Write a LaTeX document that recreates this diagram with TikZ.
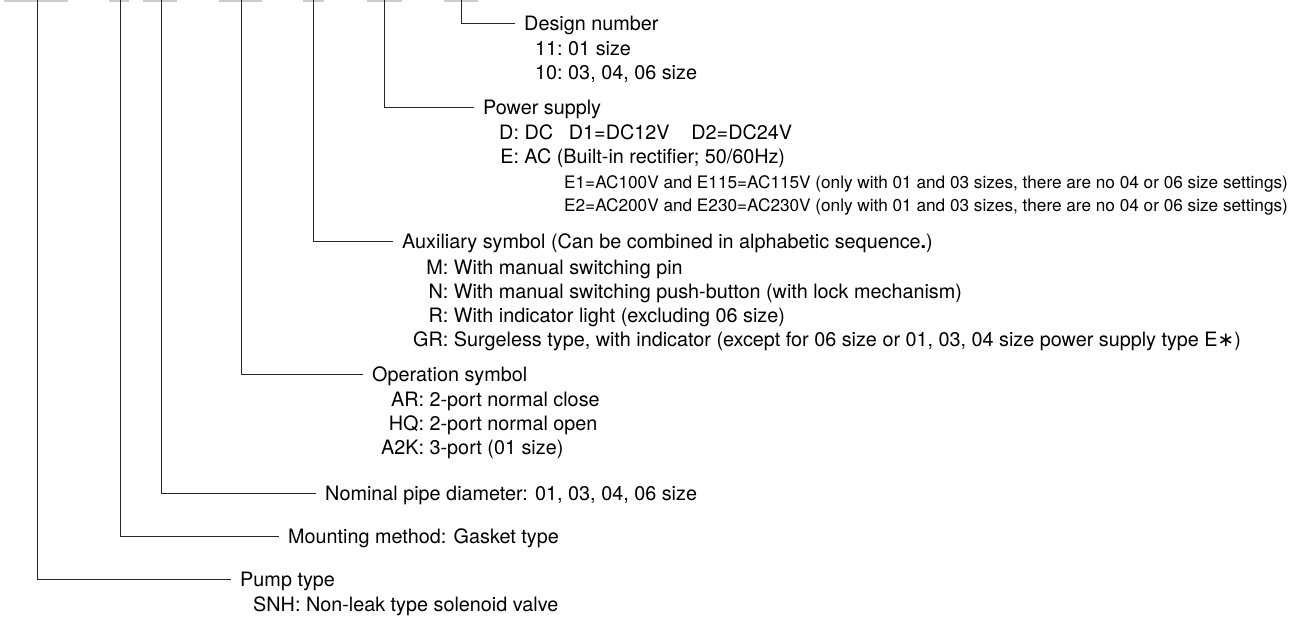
\documentclass[tikz,border=0pt]{standalone}
\usepackage{fontspec}
\setmainfont{TeX Gyre Heros}
\newfontfamily\symfont{DejaVu Sans}
\usetikzlibrary{positioning}
\tikzset{
  lead/.style={line width=1pt,draw=black!85},
  codebar/.style={line width=1.6pt,draw=black!20},
  head/.style={anchor=west,inner xsep=9pt,inner ysep=0pt,text height=14.2pt,text depth=0pt,
               font=\fontsize{19.8}{24}\selectfont},
  items/.style={anchor=north west,inner sep=0pt,font=\fontsize{19.8}{24}\selectfont},
  fine/.style={anchor=north west,inner sep=0pt,font=\fontsize{17.2}{23}\selectfont},
}
\newcommand{\keylist}[1]{\begin{tabular}{@{}r@{\ }l@{}}#1\end{tabular}}

\begin{document}
\begin{tikzpicture}[x=1pt,y=-1pt]
  \useasboundingbox (0,0) rectangle (1303,619);

  % cut-off underlines of the code
  \draw[codebar] (4,0.8)   -- (68,0.8);
  \draw[codebar] (109,0.8) -- (129,0.8);
  \draw[codebar] (143,0.8) -- (177,0.8);
  \draw[codebar] (219,0.8) -- (262,0.8);
  \draw[codebar] (303,0.8) -- (324,0.8);
  \draw[codebar] (367,0.8) -- (402,0.8);
  \draw[codebar] (444,0.8) -- (478,0.8);

  \coordinate (cPump)   at (37,0);
  \coordinate (cMount)  at (120,0);
  \coordinate (cPipe)   at (161,0);
  \coordinate (cOper)   at (241,0);
  \coordinate (cAux)    at (313,0);
  \coordinate (cPower)  at (384,0);
  \coordinate (cDesign) at (461,0);

  \node[head] (design) at (515,23.3) {Design number};
  \node[items, below right=8.2pt and 20pt of design.south west] (designK)
    {\keylist{11: & 01 size\\ 10: & 03, 04, 06 size}};

  \node[head] (power) at (474,107.3) {Power supply};
  \node[items, below right=8.2pt and 25pt of power.south west] (powerK)
    {\keylist{D: & DC\hspace{0.8em}D1=DC12V\hspace{1.1em}D2=DC24V\\
              E: & AC (Built-in rectifier; 50/60Hz)}};
  \node[fine, below right=0.8pt and 65pt of powerK.south west] (powerE)
    {\begin{tabular}{@{}l@{}}
      E1=AC100V and E115=AC115V (only with 01 and 03 sizes, there are no 04 or 06 size settings)\\
      E2=AC200V and E230=AC230V (only with 01 and 03 sizes, there are no 04 or 06 size settings)
     \end{tabular}};

  \node[head] (aux) at (393,241.7) {Auxiliary symbol (Can be combined in alphabetic sequence\textbf{.})};
  \node[items, below right=8.2pt and 20pt of aux.south west] (auxK)
    {\keylist{M: & With manual switching pin\\
              N: & With manual switching push-button (with lock mechanism)\\
              R: & With indicator light (excluding 06 size)\\
              GR: & Surgeless type, with indicator (except for 06 size or 01, 03, 04 size power supply type E{\symfont ∗})}};

  \node[head] (oper) at (363,374) {Operation symbol};
  \node[items, below right=8.2pt and 18pt of oper.south west] (operK)
    {\keylist{AR: & 2-port normal close\\ HQ: & 2-port normal open\\ A2K: & 3-port (01 size)}};

  \node[head] (pipe)  at (316,493.3) {Nominal pipe diameter: 01, 03, 04, 06 size};
  \node[head] (mount) at (279,536.7) {Mounting method: Gasket type};
  \node[head] (pump)  at (231,579)   {Pump type};
  \node[items, below right=8.2pt and 22pt of pump.south west] (pumpK)
    {\keylist{SNH: & Non-leak type solenoid valve}};

  \draw[lead] (cDesign) |- (design.west);
  \draw[lead] (cPower)  |- (power.west);
  \draw[lead] (cAux)    |- (aux.west);
  \draw[lead] (cOper)   |- (oper.west);
  \draw[lead] (cPipe)   |- (pipe.west);
  \draw[lead] (cMount)  |- (mount.west);
  \draw[lead] (cPump)   |- (pump.west);
\end{tikzpicture}
\end{document}
